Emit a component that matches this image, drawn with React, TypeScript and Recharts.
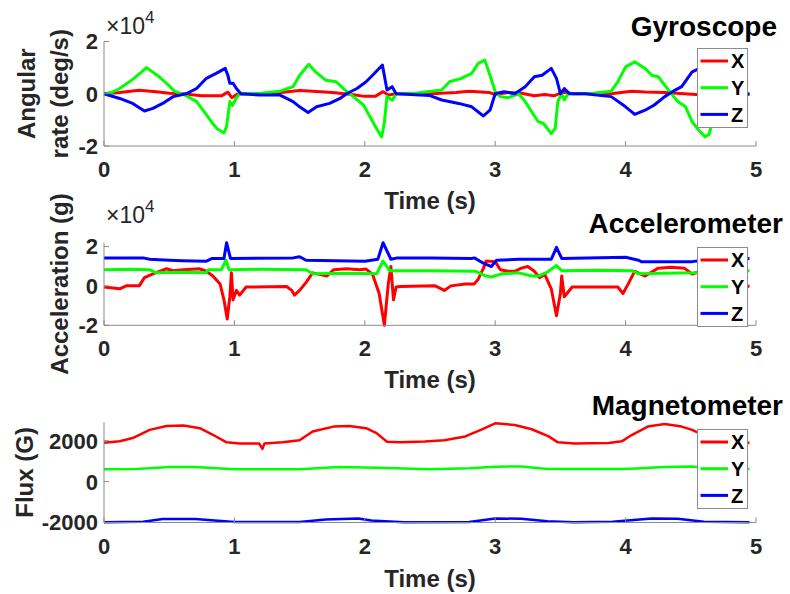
import { Legend, Line, LineChart, XAxis, YAxis } from "recharts";

type Pt = [number, number];

// time in s, value in raw units
const gyroX: Pt[] = [
  [0, 0], [0.12, 500], [0.27, 1300], [0.4, 800], [0.5, 200], [0.6, 0], [0.75, -800], [0.9, -800],
  [0.95, 600], [0.98, -1500], [1.02, -200], [1.1, 0], [1.3, 200], [1.5, 1200], [1.6, 1000],
  [1.75, 500], [1.9, -300], [2.0, -1000], [2.08, -1000], [2.14, 800], [2.18, -500], [2.25, 0],
  [2.5, 0], [2.7, 500], [2.8, 1000], [2.95, 500], [3.0, -300], [3.1, 500], [3.2, 200], [3.3, -800],
  [3.38, -300], [3.45, -800], [3.52, 600], [3.6, 0], [3.9, 100], [4.05, 1000], [4.15, 700],
  [4.3, 500], [4.45, 0], [4.6, -500], [4.8, 0], [4.95, 0],
];
const gyroY: Pt[] = [
  [0, 0], [0.06, 500], [0.12, 2000], [0.22, 5500], [0.28, 8000], [0.325, 10000], [0.41, 7000],
  [0.48, 4000], [0.54, 1000], [0.62, -500], [0.71, -3000], [0.785, -8000], [0.835, -11500],
  [0.87, -13500], [0.92, -15000], [0.94, -12500], [0.965, -3000], [0.985, -4500], [1.01, -2000],
  [1.04, 0], [1.2, 200], [1.35, 1000], [1.45, 2700], [1.5, 7000], [1.57, 11300], [1.62, 8500],
  [1.7, 5200], [1.78, 4600], [1.85, 1400], [1.91, -1000], [1.99, -4300], [2.04, -8800],
  [2.09, -13300], [2.13, -16500], [2.15, -11000], [2.17, -1000], [2.21, -2500], [2.24, 0],
  [2.4, 300], [2.59, 1400], [2.65, 4600], [2.74, 5900], [2.82, 7800], [2.87, 11600], [2.92, 12900],
  [2.96, 7100], [3.0, 800], [3.04, -1100], [3.1, -1500], [3.18, 0], [3.23, -3000], [3.28, -6900],
  [3.33, -10700], [3.37, -11400], [3.43, -15200], [3.46, -13300], [3.48, -3000], [3.51, 0],
  [3.53, -2400], [3.56, 0], [3.75, 200], [3.89, 1000], [3.94, 4600], [4.0, 10300], [4.07, 12200],
  [4.15, 9700], [4.2, 7100], [4.25, 6500], [4.33, 1400], [4.4, -3000], [4.46, -5000],
  [4.51, -10700], [4.56, -13900], [4.61, -16500], [4.64, -15500], [4.67, -10000], [4.72, -3000],
  [4.78, 0], [4.95, 0],
];
const gyroZ: Pt[] = [
  [0, 0], [0.12, -1800], [0.22, -3700], [0.31, -6600], [0.375, -5600], [0.45, -3700], [0.53, -1100],
  [0.63, 0], [0.71, 2000], [0.785, 5900], [0.86, 7800], [0.93, 9700], [0.95, 7000], [0.965, 4000],
  [0.99, 4000], [1.015, 2000], [1.05, 0], [1.2, -500], [1.35, -500], [1.45, -3000], [1.5, -5000],
  [1.565, -7200], [1.63, -5000], [1.73, -3700], [1.81, -1800], [1.86, 0], [1.94, 2000],
  [2.01, 4600], [2.06, 7100], [2.135, 11000], [2.17, 1400], [2.21, 2700], [2.24, 0], [2.5, -700],
  [2.59, -2400], [2.72, -3700], [2.82, -5000], [2.91, -8500], [2.96, -6300], [3.0, 0], [3.07, 800],
  [3.15, 0], [3.23, 2700], [3.3, 6500], [3.36, 7100], [3.43, 9700], [3.47, 5900], [3.5, 0],
  [3.53, 2000], [3.57, 0], [3.69, 0], [3.89, -1100], [4.0, -5000], [4.07, -7900], [4.15, -6300],
  [4.22, -4300], [4.3, -1100], [4.38, 1400], [4.43, 2700], [4.51, 8400], [4.56, 9500],
  [4.62, 10000], [4.66, 3000], [4.7, 1000], [4.8, 0], [4.95, -200],
];

const accX: Pt[] = [
  [0, -600], [0.12, -1500], [0.17, 0], [0.27, 0], [0.31, 4200], [0.375, 6100], [0.48, 8700],
  [0.53, 7700], [0.61, 8200], [0.73, 8700], [0.785, 7400], [0.835, 5000], [0.89, 1000],
  [0.92, -7100], [0.945, -16800], [0.965, -5500], [0.977, 6600], [0.99, -7100], [1.015, -2300],
  [1.04, -4700], [1.09, -600], [1.4, -300], [1.44, -2300], [1.46, -4700], [1.5, -2300], [1.55, 1800],
  [1.6, 6600], [1.71, 5000], [1.76, 8200], [1.86, 8700], [1.96, 8200], [2.01, 8500], [2.06, 5800],
  [2.11, -3900], [2.15, -20000], [2.18, 1000], [2.2, 9800], [2.22, -7100], [2.24, -600],
  [2.27, -300], [2.54, 0], [2.61, -2300], [2.66, 0], [2.77, 1000], [2.84, 1000], [2.87, 3400],
  [2.91, 9000], [2.93, 12600], [3.0, 12300], [3.04, 8200], [3.1, 7400], [3.15, 7400], [3.2, 9000],
  [3.25, 9800], [3.3, 7400], [3.34, 4200], [3.38, 5800], [3.43, -1500], [3.47, -15200],
  [3.5, -3900], [3.51, 5000], [3.53, -5500], [3.59, -600], [3.94, -600], [3.98, -3900],
  [4.02, 1000], [4.07, 7400], [4.15, 5000], [4.25, 9000], [4.35, 9500], [4.45, 9000], [4.51, 6000],
  [4.6, 8000], [4.7, 5000], [4.8, 2000], [4.95, -300],
];
const accY: Pt[] = [
  [0, 8200], [0.2, 8400], [0.35, 8200], [0.4, 6600], [0.6, 6900], [0.78, 6600], [0.8, 8200],
  [0.9, 8200], [0.935, 13000], [0.96, 8200], [1.2, 8400], [1.55, 8200], [1.6, 6100], [1.85, 6400],
  [2.09, 6100], [2.14, 12600], [2.19, 7700], [2.5, 7700], [2.85, 7400], [2.93, 5000], [2.97, 4500],
  [3.05, 6100], [3.18, 6600], [3.28, 5000], [3.33, 5000], [3.4, 7000], [3.47, 10300], [3.51, 7700],
  [3.8, 7900], [4.05, 7700], [4.1, 6100], [4.3, 6400], [4.53, 6600], [4.7, 7000], [4.95, 7700],
];
const accZ: Pt[] = [
  [0, 14200], [0.3, 14200], [0.35, 13500], [0.5, 13000], [0.6, 12800], [0.785, 12500],
  [0.83, 13900], [0.92, 13900], [0.94, 21900], [0.97, 13900], [1.45, 14200], [1.5, 14800],
  [1.55, 13000], [2.0, 12500], [2.1, 13500], [2.14, 21900], [2.2, 13500], [2.25, 14200],
  [2.5, 14200], [2.82, 13900], [2.84, 14200], [2.91, 11500], [2.97, 9800], [3.01, 13000],
  [3.18, 13500], [3.43, 13500], [3.47, 19500], [3.51, 13900], [4.0, 14500], [4.1, 13000],
  [4.12, 12300], [4.51, 12300], [4.6, 13000], [4.95, 13900],
];

const magX: Pt[] = [
  [0, 1900], [0.12, 1970], [0.22, 2130], [0.35, 2530], [0.48, 2720], [0.61, 2740], [0.735, 2610],
  [0.835, 2290], [0.94, 1920], [1.04, 1860], [1.19, 1860], [1.215, 1600], [1.23, 1860],
  [1.37, 1920], [1.5, 2020], [1.6, 2450], [1.76, 2690], [1.88, 2720], [2.01, 2610], [2.09, 2370],
  [2.17, 1950], [2.27, 1920], [2.46, 1960], [2.61, 2020], [2.77, 2210], [2.89, 2530], [3.0, 2850],
  [3.15, 2770], [3.28, 2560], [3.41, 2210], [3.48, 1920], [3.61, 1860], [3.87, 1890], [3.97, 1970],
  [4.05, 2290], [4.17, 2690], [4.3, 2820], [4.43, 2690], [4.51, 2530], [4.62, 2200], [4.75, 1950],
  [4.95, 1900],
];
const magY: Pt[] = [
  [0, 600], [0.25, 620], [0.5, 720], [0.7, 720], [1.0, 600], [1.5, 600], [1.8, 720], [2.1, 680],
  [2.5, 610], [2.8, 650], [3.0, 730], [3.2, 740], [3.4, 620], [4.0, 620], [4.3, 720], [4.5, 740],
  [4.7, 650], [4.95, 620],
];
const magZ: Pt[] = [
  [0, -1990], [0.3, -1960], [0.45, -1830], [0.7, -1830], [0.85, -1900], [1.0, -1980],
  [1.5, -1980], [1.7, -1850], [1.95, -1800], [2.05, -1900], [2.3, -1990], [2.8, -1980],
  [3.0, -1800], [3.2, -1820], [3.4, -1940], [3.6, -1990], [3.9, -1960], [4.2, -1800],
  [4.4, -1820], [4.6, -1960], [4.95, -1990],
];

const timeTicks = [0, 1, 2, 3, 4, 5];
const sensorTicks = [-20000, 0, 20000];
const magTicks = [-2000, 0, 2000];
const seriesNames = ["X", "Y", "Z"];

const COLORS = ["#ff0000", "#00ff00", "#0000ff"];
const FONT = "'Liberation Sans', Arial, Helvetica, sans-serif";
const AXIS = "#8a8a8a";
const TXT = "#262626";
const W = 790;
const H = 594;

const XTick = (props: any) => {
  const { x, y, payload } = props;
  return (
    <g>
      <line x1={x} y1={y} x2={x} y2={y - 5} stroke={AXIS} />
      <text x={x} y={y + 31} textAnchor="middle" fontSize={22} fontWeight="bold" fill={TXT} fontFamily={FONT}>
        {payload.value}
      </text>
    </g>
  );
};

const makeYTick = (fmt: (v: number) => string) => (props: any) => {
  const { x, y, payload } = props;
  return (
    <g>
      <line x1={x} y1={y} x2={x + 5} y2={y} stroke={AXIS} />
      <text x={x - 6} y={y} dy="0.36em" textAnchor="end" fontSize={22} fontWeight="bold" fill={TXT} fontFamily={FONT}>
        {fmt(payload.value)}
      </text>
    </g>
  );
};

const LegendBox = () => (
  <svg width={51} height={80} style={{ display: "block" }}>
    <rect x={0.5} y={0.5} width={50} height={79} fill="#fff" stroke="#8c8c8c" />
    {seriesNames.map((n, i) => (
      <g key={n}>
        <line x1={3.5} x2={31} y1={13 + i * 26.7} y2={13 + i * 26.7} stroke={COLORS[i]} strokeWidth={3} />
        <text x={34} y={13 + i * 26.7} dy="0.36em" fontSize={20} fontWeight="bold" fill="#000" fontFamily={FONT}>
          {n}
        </text>
      </g>
    ))}
  </svg>
);

interface PanelProps {
  series: Pt[][];
  plotTop: number;
  plotBottom: number;
  domain: [number, number];
  ticks: number[];
  fmt: (v: number) => string;
  title: string;
  titleX: number;
  titleY: number;
  yLabel: string[];
  yLabelX: number[];
  expY?: number;
  timeY: number;
  legendTop: number;
  lineW: number;
}

const Panel = (p: PanelProps) => {
  const mid = (p.plotTop + p.plotBottom) / 2;
  const texts = () => (
    <g fontFamily={FONT}>
      <text x={430} y={p.timeY} textAnchor="middle" fontSize={24} fontWeight="bold" fill={TXT}>
        Time (s)
      </text>
      <text x={p.titleX} y={p.titleY} textAnchor="end" fontSize={28} fontWeight="bold" fill="#000">
        {p.title}
      </text>
      {p.yLabel.map((s, i) => (
        <text key={s} x={p.yLabelX[i]} y={mid} textAnchor="middle" fontSize={24} fontWeight="bold" fill={TXT}
          transform={`rotate(-90 ${p.yLabelX[i]} ${mid})`}>
          {s}
        </text>
      ))}
      {p.expY !== undefined && (
        <text x={106} y={p.expY} fontSize={23} fill={TXT}>
          ×10<tspan dy={-11} fontSize={17}>4</tspan>
        </text>
      )}
    </g>
  );
  return (
    <div style={{ position: "absolute", left: 0, top: 0 }}>
      <LineChart
        width={W}
        height={H}
        margin={{ top: p.plotTop, right: 34, bottom: H - p.plotBottom - 40, left: 0 }}
      >
        <XAxis
          type="number"
          dataKey="t"
          domain={[0, 5]}
          ticks={timeTicks}
          height={40}
          tickSize={0}
          tickMargin={0}
          tickLine={false}
          stroke={AXIS}
          tick={XTick}
          label={{ content: texts }}
        />
        <YAxis
          type="number"
          domain={p.domain}
          ticks={p.ticks}
          width={104}
          tickSize={0}
          tickMargin={0}
          tickLine={false}
          stroke={AXIS}
          tick={makeYTick(p.fmt)}
        />
        {p.series.map((s, i) => (
          <Line
            key={seriesNames[i]}
            name={seriesNames[i]}
            data={s.map(([t, v]) => ({ t, v }))}
            dataKey="v"
            type="linear"
            stroke={COLORS[i]}
            strokeWidth={p.lineW}
            strokeLinejoin="round"
            dot={false}
            activeDot={false}
            isAnimationActive={false}
          />
        ))}
        <Legend
          layout="vertical"
          align="center"
          verticalAlign="middle"
          content={LegendBox}
          wrapperStyle={{ left: 697, top: p.legendTop, width: 51, height: 80 }}
        />
      </LineChart>
    </div>
  );
};

export default function App() {
  return (
    <div style={{ position: "absolute", left: 0, top: 0, width: W, height: H, background: "#fff" }}>
      <Panel
        series={[gyroX, gyroY, gyroZ]}
        plotTop={41.5}
        plotBottom={146}
        domain={[-20000, 20000]}
        ticks={sensorTicks}
        fmt={(v) => String(v / 10000)}
        title="Gyroscope"
        titleX={777}
        titleY={36}
        yLabel={["Angular", "rate (deg/s)"]}
        yLabelX={[35, 68]}
        expY={34}
        timeY={209}
        legendTop={48}
        lineW={3}
      />
      <Panel
        series={[accX, accY, accZ]}
        plotTop={242.7}
        plotBottom={325.3}
        domain={[-20000, 20000]}
        ticks={sensorTicks}
        fmt={(v) => String(v / 10000)}
        title="Accelerometer"
        titleX={783}
        titleY={233}
        yLabel={["Acceleration (g)"]}
        yLabelX={[68]}
        expY={223}
        timeY={388}
        legendTop={246.7}
        lineW={3}
      />
      <Panel
        series={[magX, magY, magZ]}
        plotTop={422.3}
        plotBottom={522.5}
        domain={[-2000, 2900]}
        ticks={magTicks}
        fmt={(v) => String(v)}
        title="Magnetometer"
        titleX={783}
        titleY={415}
        yLabel={["Flux (G)"]}
        yLabelX={[33]}
        timeY={587}
        legendTop={429}
        lineW={2.5}
      />
    </div>
  );
}
